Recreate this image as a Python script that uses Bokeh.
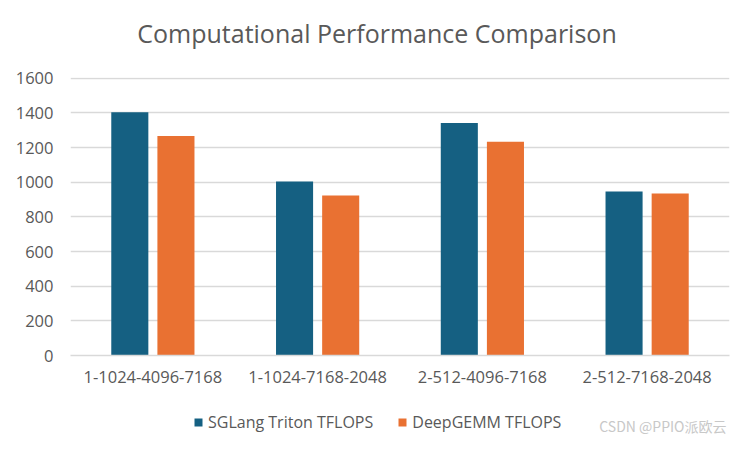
from bokeh.plotting import figure
from bokeh.models import ColumnDataSource, FactorRange, FixedTicker, Legend, LegendItem, Label, Range1d
from bokeh.layouts import column
from bokeh.transform import dodge
from bokeh.embed import file_html
from bokeh.resources import INLINE

categories = ["1-1024-4096-7168", "1-1024-7168-2048", "2-512-4096-7168", "2-512-7168-2048"]
sglang_tflops = [1404, 1004, 1341, 946]
deepgemm_tflops = [1266, 923, 1233, 935]
y_ticks = [0, 200, 400, 600, 800, 1000, 1200, 1400, 1600]
series_names = ["SGLang Triton TFLOPS", "DeepGEMM TFLOPS"]
title_text = "Computational Performance Comparison"
watermark_text = "CSDN @PPIO派欧云"

BLUE = "#156082"
ORANGE = "#E97132"
TEXT = "#595959"
GRID = "#D9D9D9"
FONT = "Open Sans"
W = 736


def strip(height):
    f = figure(width=W, height=height, x_range=Range1d(0, W), y_range=Range1d(0, height),
               output_backend="svg", toolbar_location=None,
               min_border_left=0, min_border_right=0, min_border_top=0, min_border_bottom=0)
    f.frame_align = False
    f.axis.visible = False
    f.grid.visible = False
    f.outline_line_color = None
    f.background_fill_color = "white"
    f.border_fill_color = "white"
    return f


source = ColumnDataSource(dict(cat=categories, sg=sglang_tflops, dg=deepgemm_tflops))

# ---- header with title
head = strip(62)
head.add_layout(Label(x=376.5, y=30, text=title_text, text_align="center",
                      text_baseline="alphabetic", text_color=TEXT,
                      text_font=FONT, text_font_size="25px"))

# ---- main chart
p = figure(
    x_range=FactorRange(*categories, range_padding=0),
    y_range=(0, 1604),
    width=W, height=338,
    output_backend="svg", toolbar_location=None,
    min_border_left=70, min_border_right=7, min_border_top=15, min_border_bottom=45,
)
p.background_fill_color = "white"
p.border_fill_color = "white"
p.outline_line_color = None

p.vbar(x=dodge("cat", -0.14, range=p.x_range), top="sg", width=0.225, source=source,
       fill_color=BLUE, line_color=None)
p.vbar(x=dodge("cat", 0.14, range=p.x_range), top="dg", width=0.225, source=source,
       fill_color=ORANGE, line_color=None)

p.xaxis.axis_line_color = GRID
p.xaxis.axis_line_width = 1.3
p.xaxis.major_tick_line_color = None
p.xaxis.minor_tick_line_color = None
p.xaxis.major_tick_out = 0
p.xaxis.major_label_text_color = TEXT
p.xaxis.major_label_text_font = FONT
p.xaxis.major_label_text_font_size = "16.5px"
p.xaxis.major_label_standoff = 15

p.yaxis.ticker = FixedTicker(ticks=y_ticks)
p.yaxis.axis_line_color = None
p.yaxis.major_tick_line_color = None
p.yaxis.minor_tick_line_color = None
p.yaxis.major_tick_out = 0
p.yaxis.major_label_standoff = 17
p.yaxis.major_label_text_color = TEXT
p.yaxis.major_label_text_font = FONT
p.yaxis.major_label_text_font_size = "16.5px"

p.xgrid.grid_line_color = None
p.ygrid.grid_line_color = GRID
p.ygrid.grid_line_width = 1.3

# ---- footer with legend and watermark
foot = strip(36)
k1 = foot.vbar(x="sg", top="dg", width=1, source=source, fill_color=BLUE, line_color=None,
               visible=False)
k2 = foot.vbar(x="sg", top="dg", width=1, source=source, fill_color=ORANGE, line_color=None,
               visible=False)

legend = Legend(
    items=[LegendItem(label=series_names[0], renderers=[k1]),
           LegendItem(label=series_names[1], renderers=[k2])],
    orientation="horizontal",
    location=(193, 3),
    padding=0, margin=0, spacing=24,
    glyph_width=10, glyph_height=10, label_height=10, label_standoff=5,
    border_line_color=None, background_fill_alpha=0,
    inactive_fill_alpha=0,
    label_text_color=TEXT, label_text_font=FONT, label_text_font_size="16px",
)
foot.add_layout(legend)

foot.add_layout(Label(x=726, y=11, text=watermark_text, text_align="right",
                      text_baseline="alphabetic", text_color="#C8C8C8",
                      text_font="Noto Sans CJK SC", text_font_size="14px"))

layout = column(head, p, foot, spacing=0)
open("out.html", "w").write(file_html(layout, INLINE))
